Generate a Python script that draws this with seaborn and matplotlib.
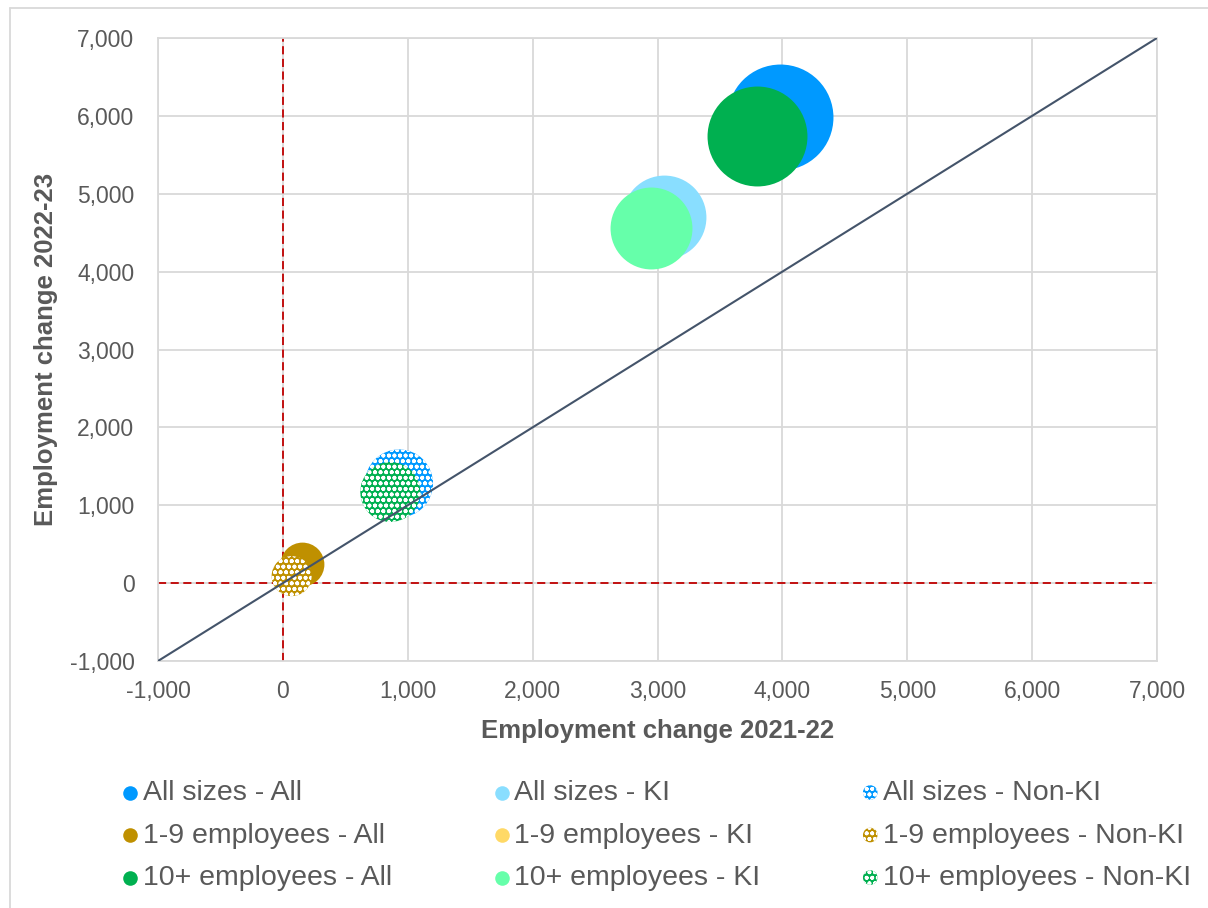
import numpy as np
import pandas as pd
import matplotlib
matplotlib.use("Agg")
import matplotlib.pyplot as plt
import matplotlib.ticker as mticker
from matplotlib.lines import Line2D
import seaborn as sns

# === Data ===
series = ["All sizes - All", "All sizes - KI", "All sizes - Non-KI",
          "1-9 employees - All", "1-9 employees - KI", "1-9 employees - Non-KI",
          "10+ employees - All", "10+ employees - KI", "10+ employees - Non-KI"]
change_2122 = [3980, 3050, 930, 150, 80, 70, 3800, 2950, 860]
change_2223 = [5990, 4700, 1280, 240, 110, 90, 5740, 4560, 1170]
bubble = [2810, 1760, 1160, 480, 140, 400, 2500, 1680, 900]
colours = ["#0099FF", "#89DEFF", "#0099FF",
           "#BF9000", "#FFD966", "#BF9000",
           "#00B050", "#66FFAA", "#00B050"]
patterned = [False, False, True, False, False, True, False, False, True]

df = pd.DataFrame({"series": series, "x": change_2122, "y": change_2223,
                   "bubble": bubble, "colour": colours, "hatch": patterned})

sns.set_style("white")
plt.rcParams["font.family"] = ["Liberation Sans", "DejaVu Sans"]
plt.rcParams["hatch.color"] = "white"
plt.rcParams["hatch.linewidth"] = 1.2

fig = plt.figure(figsize=(12.08, 9.08), dpi=100)
ax = fig.add_axes([158 / 1208, 1 - 661 / 908, 999 / 1208, 623 / 908])

# grid + reference lines
ax.set_axisbelow(True)
ax.grid(True, color="#D9D9D9", linewidth=1.3)
ax.plot([-1000, 7000], [-1000, 7000], color="#44546A", linewidth=1.5, zorder=4)
ax.axvline(0, color="#C00000", linestyle=(0, (4.5, 2.5)), linewidth=1.3, zorder=1.5)
ax.axhline(0, color="#C00000", linestyle=(0, (4.5, 2.5)), linewidth=1.3, zorder=1.5)

# === Bubbles ===
for i, row in df.iterrows():
    sns.scatterplot(x=[row["x"]], y=[row["y"]], s=row["bubble"] * 2.07,
                    color=row["colour"], edgecolor="white", linewidth=0,
                    hatch="ooo" if row["hatch"] else None,
                    label=row["series"], legend=False, ax=ax, zorder=2 + i * 0.01)

ax.set_xlim(-1000, 7000)
ax.set_ylim(-1000, 7000)
ax.xaxis.set_major_locator(mticker.MultipleLocator(1000))
ax.yaxis.set_major_locator(mticker.MultipleLocator(1000))
fmt = mticker.FuncFormatter(lambda v, p: f"{v:,.0f}")
ax.xaxis.set_major_formatter(fmt)
ax.yaxis.set_major_formatter(fmt)
ax.tick_params(length=0, labelsize=16.5, labelcolor="#595959")
ax.tick_params(axis="x", pad=14)
ax.tick_params(axis="y", pad=17)
for sp in ax.spines.values():
    sp.set_color("#D9D9D9")
    sp.set_linewidth(1.3)

ax.set_xlabel("Employment change 2021-22", fontsize=18.5, fontweight="bold",
              color="#595959", labelpad=11)
ax.set_ylabel("Employment change 2022-23", fontsize=18.5, fontweight="bold",
              color="#595959", labelpad=8)

# === Legend: 3 columns, filled row by row ===
handles = ax.collections[:]
labels = list(series)
order = [0, 3, 6, 1, 4, 7, 2, 5, 8]
leg = fig.legend([handles[k] for k in order], [labels[k] for k in order],
                 loc="upper left", bbox_to_anchor=(123 / 1208, 1 - 780 / 908),
                 ncol=3, frameon=False, fontsize=20.5, borderpad=0,
                 borderaxespad=0, handlelength=0.5, handletextpad=0.2,
                 columnspacing=3.6, labelspacing=0.58, labelcolor="#595959")
for h in leg.legend_handles:
    h.set_sizes([110])

# figure border (left/top edges visible)
fig.add_artist(Line2D([10 / 1208, 10 / 1208], [0, 1 - 8 / 908], color="#D9D9D9", linewidth=1.3))
fig.add_artist(Line2D([10 / 1208, 1], [1 - 8 / 908, 1 - 8 / 908], color="#D9D9D9", linewidth=1.3))

fig.savefig("out.png", dpi=100)
